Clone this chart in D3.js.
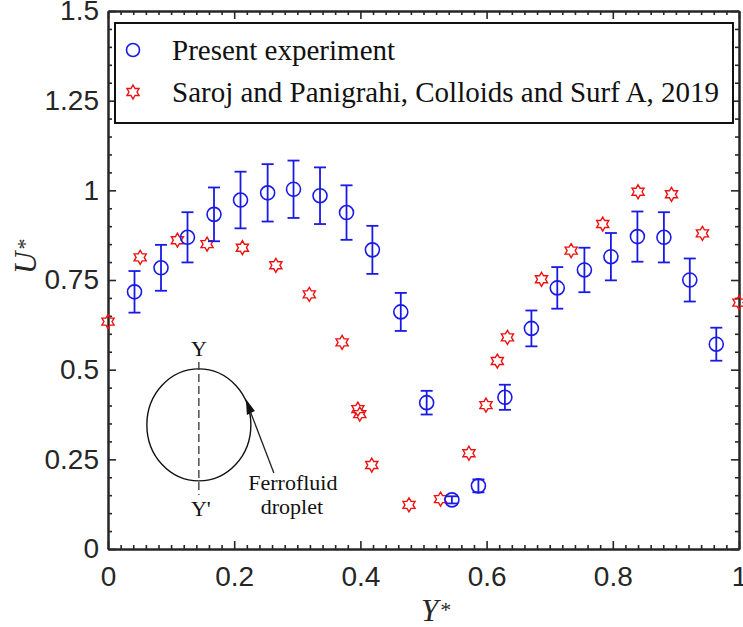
<!DOCTYPE html>
<html>
<head>
<meta charset="utf-8">
<script src="https://cdn.jsdelivr.net/npm/d3@7"></script>
<style>
  body { margin: 0; background: #fff; }
</style>
</head>
<body>
<div id="chart"></div>
<script>
// SVG area
var svgWidth = 743;
var svgHeight = 627;

var chartMargin = { top: 11, right: 4, bottom: 78, left: 108 };
var chartWidth = svgWidth - chartMargin.left - chartMargin.right;
var chartHeight = svgHeight - chartMargin.top - chartMargin.bottom;

// Data
// Present experiment (circles with error bars)
var expY   = [0.042, 0.084, 0.126, 0.168, 0.210, 0.253, 0.294, 0.336, 0.378, 0.419, 0.464, 0.505,
              0.545, 0.587, 0.629, 0.671, 0.712, 0.755, 0.797, 0.839, 0.881, 0.922, 0.964];
var expU   = [0.717, 0.784, 0.869, 0.933, 0.973, 0.993, 1.003, 0.985, 0.938, 0.834, 0.661, 0.408,
              0.137, 0.176, 0.423, 0.615, 0.728, 0.778, 0.815, 0.871, 0.869, 0.750, 0.571];
var expErr = [0.058, 0.064, 0.070, 0.075, 0.079, 0.080, 0.080, 0.079, 0.076, 0.067, 0.053, 0.033,
              0.010, 0.018, 0.035, 0.050, 0.058, 0.062, 0.066, 0.070, 0.070, 0.060, 0.046];

// Saroj and Panigrahi 2019 (hexagrams)
var sarojY = [0.000, 0.051, 0.110, 0.157, 0.213, 0.266, 0.319, 0.371, 0.396, 0.399, 0.418, 0.477,
              0.527, 0.572, 0.599, 0.617, 0.633, 0.687, 0.734, 0.784, 0.840, 0.893, 0.942, 1.000];
var sarojU = [0.634, 0.813, 0.861, 0.850, 0.840, 0.791, 0.710, 0.576, 0.390, 0.376, 0.234, 0.123,
              0.139, 0.267, 0.401, 0.524, 0.590, 0.752, 0.832, 0.906, 0.996, 0.989, 0.880, 0.687];

// Ticks
var xTicks = [0, 0.2, 0.4, 0.6, 0.8, 1];
var xTickLabels = ["0", "0.2", "0.4", "0.6", "0.8", "1"];
var yTicks = [0, 0.25, 0.5, 0.75, 1, 1.25, 1.5];
var yTickLabels = ["0", "0.25", "0.5", "0.75", "1", "1.25", "1.5"];

var legendLabels = ["Present experiment", "Saroj and Panigrahi, Colloids and Surf A, 2019"];

var axisColor = "#262626";
var blue = "#1a1ae6";
var red = "#ee1111";
var serif = "'Liberation Serif', 'Times New Roman', serif";
var sans = "'Liberation Sans', Arial, sans-serif";

var svg = d3.select("#chart")
  .append("svg")
  .attr("width", svgWidth)
  .attr("height", svgHeight)
  .style("background", "#fff");

var chartGroup = svg.append("g")
  .attr("transform", `translate(${chartMargin.left}, ${chartMargin.top})`);

// Scales
var xScale = d3.scaleLinear().domain([0, 1]).range([0, chartWidth]);
var yScale = d3.scaleLinear().domain([0, 1.5]).range([chartHeight, 0]);

var xMinor = d3.range(0, 51).map(i => i * 0.02).filter(v => Math.abs(v * 5 - Math.round(v * 5)) > 1e-6);
var yMinor = d3.range(0, 31).map(i => i * 0.05).filter(v => Math.abs(v * 4 - Math.round(v * 4)) > 1e-6);

function styleAxis(g) {
  g.select(".domain").attr("stroke", axisColor).attr("stroke-width", 2);
  g.selectAll(".tick line").attr("stroke", axisColor).attr("stroke-width", 1.6);
  g.selectAll(".tick text")
    .attr("fill", axisColor)
    .style("font-family", sans)
    .style("font-size", "28px");
}

// minor ticks (all four sides)
chartGroup.append("g").attr("transform", `translate(0, ${chartHeight})`)
  .call(d3.axisBottom(xScale).tickValues(xMinor).tickSize(-4).tickSizeOuter(0).tickFormat(""))
  .call(styleAxis);
chartGroup.append("g")
  .call(d3.axisTop(xScale).tickValues(xMinor).tickSize(-4).tickSizeOuter(0).tickFormat(""))
  .call(styleAxis);
chartGroup.append("g")
  .call(d3.axisLeft(yScale).tickValues(yMinor).tickSize(-4).tickSizeOuter(0).tickFormat(""))
  .call(styleAxis);
chartGroup.append("g").attr("transform", `translate(${chartWidth}, 0)`)
  .call(d3.axisRight(yScale).tickValues(yMinor).tickSize(-4).tickSizeOuter(0).tickFormat(""))
  .call(styleAxis);

// major ticks
chartGroup.append("g").attr("transform", `translate(0, ${chartHeight})`)
  .call(d3.axisBottom(xScale).tickValues(xTicks).tickSize(-8).tickSizeOuter(0).tickPadding(17)
    .tickFormat((d, i) => xTickLabels[i]))
  .call(styleAxis);
chartGroup.append("g")
  .call(d3.axisTop(xScale).tickValues(xTicks).tickSize(-8).tickSizeOuter(0).tickFormat(""))
  .call(styleAxis);
chartGroup.append("g")
  .call(d3.axisLeft(yScale).tickValues(yTicks).tickSize(-8).tickSizeOuter(0).tickPadding(9)
    .tickFormat((d, i) => yTickLabels[i]))
  .call(styleAxis);
chartGroup.append("g").attr("transform", `translate(${chartWidth}, 0)`)
  .call(d3.axisRight(yScale).tickValues(yTicks).tickSize(-8).tickSizeOuter(0).tickFormat(""))
  .call(styleAxis);

// hexagram marker
function hexagram(r) {
  var pts = [];
  var ri = r / Math.sqrt(3);
  for (var k = 0; k < 12; k++) {
    var a = -Math.PI / 2 + k * Math.PI / 6;
    var rr = k % 2 === 0 ? r : ri;
    pts.push([rr * Math.cos(a), rr * Math.sin(a)]);
  }
  return d3.line()(pts) + "Z";
}

// Inset sketch (droplet)
var inset = chartGroup.append("g")
  .attr("transform", `translate(${xScale(0.144)}, ${yScale(0.346)})`);
inset.append("ellipse")
  .attr("rx", 52).attr("ry", 56)
  .attr("fill", "none").attr("stroke", "#111").attr("stroke-width", 1.4);
inset.append("line")
  .attr("x1", 0).attr("x2", 0).attr("y1", -63).attr("y2", 70)
  .attr("stroke", "#333").attr("stroke-width", 1.3).attr("stroke-dasharray", "8,4");
inset.append("path")
  .attr("d", "M47,-26 L48,-10 L56,-14 Z")
  .attr("fill", "#111");
inset.append("line")
  .attr("x1", 52).attr("y1", -12).attr("x2", 75).attr("y2", 48)
  .attr("stroke", "#222").attr("stroke-width", 1.3);
inset.append("text").attr("x", 0).attr("y", -69).attr("text-anchor", "middle")
  .style("font-family", serif).style("font-size", "22px").attr("fill", "#111").text("Y");
inset.append("text").attr("x", 2).attr("y", 91).attr("text-anchor", "middle")
  .style("font-family", serif).style("font-size", "22px").attr("fill", "#111").text("Y'");
inset.append("text").attr("x", 94).attr("y", 65).attr("text-anchor", "middle")
  .style("font-family", serif).style("font-size", "22px").attr("fill", "#111").text("Ferrofluid");
inset.append("text").attr("x", 93).attr("y", 89).attr("text-anchor", "middle")
  .style("font-family", serif).style("font-size", "22px").attr("fill", "#111").text("droplet");

// Saroj data
chartGroup.selectAll(".saroj")
  .data(sarojY)
  .enter()
  .append("path")
  .attr("class", "saroj")
  .attr("transform", (d, i) => `translate(${xScale(d)}, ${yScale(sarojU[i])})`)
  .attr("d", hexagram(7))
  .attr("fill", "none")
  .attr("stroke", red)
  .attr("stroke-width", 1.4);

// Experiment data with error bars
var expGroup = chartGroup.selectAll(".exp")
  .data(expY)
  .enter()
  .append("g")
  .attr("class", "exp");

expGroup.append("line")
  .attr("x1", d => xScale(d)).attr("x2", d => xScale(d))
  .attr("y1", (d, i) => yScale(expU[i] - expErr[i]))
  .attr("y2", (d, i) => yScale(expU[i] + expErr[i]))
  .attr("stroke", blue).attr("stroke-width", 1.8);
expGroup.append("line")
  .attr("x1", d => xScale(d) - 6).attr("x2", d => xScale(d) + 6)
  .attr("y1", (d, i) => yScale(expU[i] - expErr[i]))
  .attr("y2", (d, i) => yScale(expU[i] - expErr[i]))
  .attr("stroke", blue).attr("stroke-width", 1.8);
expGroup.append("line")
  .attr("x1", d => xScale(d) - 6).attr("x2", d => xScale(d) + 6)
  .attr("y1", (d, i) => yScale(expU[i] + expErr[i]))
  .attr("y2", (d, i) => yScale(expU[i] + expErr[i]))
  .attr("stroke", blue).attr("stroke-width", 1.8);
expGroup.append("circle")
  .attr("cx", d => xScale(d))
  .attr("cy", (d, i) => yScale(expU[i]))
  .attr("r", 7)
  .attr("fill", "none")
  .attr("stroke", blue)
  .attr("stroke-width", 1.6);

// Legend
var legend = svg.append("g").attr("transform", "translate(115, 23)");
legend.append("rect")
  .attr("width", 618).attr("height", 100)
  .attr("fill", "#fff").attr("stroke", "#111").attr("stroke-width", 2);
legend.append("circle")
  .attr("cx", 18).attr("cy", 27).attr("r", 6.5)
  .attr("fill", "none").attr("stroke", blue).attr("stroke-width", 1.6);
legend.append("path")
  .attr("transform", "translate(18, 69)")
  .attr("d", hexagram(7))
  .attr("fill", "none").attr("stroke", red).attr("stroke-width", 1.4);
legend.selectAll(".legtext")
  .data(legendLabels)
  .enter()
  .append("text")
  .attr("class", "legtext")
  .attr("x", 57)
  .attr("y", (d, i) => 37 + i * 42)
  .style("font-family", serif)
  .style("font-size", "29px")
  .attr("fill", "#111")
  .text(d => d);

// Axis labels
var xLabel = svg.append("text")
  .attr("x", 421).attr("y", 621)
  .style("font-family", serif).style("font-size", "31px").style("font-style", "italic")
  .attr("fill", axisColor);
xLabel.append("tspan").text("Y");
xLabel.append("tspan").attr("dx", 2).attr("dy", -4).style("font-size", "22px").style("font-style", "normal").text("*");

var yLabel = svg.append("text")
  .attr("transform", "translate(36, 274) rotate(-90)")
  .style("font-family", serif).style("font-size", "31px").style("font-style", "italic")
  .attr("fill", axisColor);
yLabel.append("tspan").text("U");
yLabel.append("tspan").attr("dx", 2).attr("dy", -4).style("font-size", "22px").style("font-style", "normal").text("*");
</script>
</body>
</html>
